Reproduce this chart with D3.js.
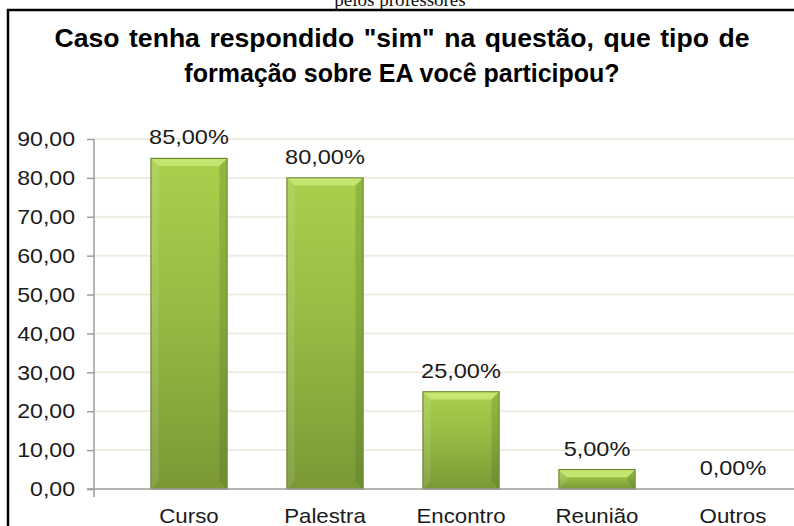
<!DOCTYPE html>
<html>
<head>
<meta charset="utf-8">
<script src="https://cdn.jsdelivr.net/npm/d3@7"></script>
<style>
  body { margin: 0; background: #fff; }
  svg { display: block; font-family: "Liberation Sans", Arial, sans-serif; }
</style>
</head>
<body>
<svg id="svg" width="794" height="526"></svg>
<script>
// chart data
const categories = ["Curso", "Palestra", "Encontro", "Reunião", "Outros"];
const values = [85, 80, 25, 5, 0];
const yTicks = [0, 10, 20, 30, 40, 50, 60, 70, 80, 90];
const titleLines = ["Caso tenha respondido \"sim\" na questão, que tipo de", "formação sobre EA você participou?"];
const captionAbove = "pelos professores";

const W = 794, H = 526;
const svg = d3.select("#svg");

// pt-BR number formats
const br = d3.formatLocale({ decimal: ",", thousands: ".", grouping: [3], currency: ["R$", ""] });
const fmtTick = br.format(".2f");
const fmtPct = v => br.format(".2f")(v) + "%";

// the source picture is stretched a bit horizontally
function stretch(sel, k) {
  sel.each(function () {
    const len = this.getComputedTextLength();
    d3.select(this).attr("textLength", len * k).attr("lengthAdjust", "spacingAndGlyphs");
  });
}

// gradient for the bars
const defs = svg.append("defs");
const grad = defs.append("linearGradient")
  .attr("id", "barGrad").attr("x1", 0).attr("y1", 0).attr("x2", 0).attr("y2", 1);
grad.append("stop").attr("offset", "0%").attr("stop-color", "#a8d04c");
grad.append("stop").attr("offset", "45%").attr("stop-color", "#96bc44");
grad.append("stop").attr("offset", "100%").attr("stop-color", "#7a9936");

// caption cut off at the top (from the page above)
svg.append("text")
  .attr("x", 400).attr("y", 6)
  .attr("text-anchor", "middle")
  .style("font-family", "'Liberation Serif', 'Times New Roman', serif")
  .style("font-size", "19px")
  .attr("fill", "#111")
  .text(captionAbove);

// outer frame
svg.append("rect")
  .attr("x", 8).attr("y", 10)
  .attr("width", 800).attr("height", 540)
  .attr("fill", "none").attr("stroke", "#000").attr("stroke-width", 2.5);

// title
const title = svg.append("g").selectAll("text")
  .data(titleLines)
  .enter().append("text")
  .attr("x", 402)
  .attr("y", (d, i) => 47 + i * 35)
  .attr("text-anchor", "middle")
  .style("font-size", "25px")
  .style("font-weight", "bold")
  .attr("fill", "#000")
  .text(d => d);
title.filter((d, i) => i === 0)
  .style("word-spacing", "2px")
  .attr("textLength", 695).attr("lengthAdjust", "spacingAndGlyphs");

// scales
const x = d3.scaleBand()
  .domain(categories)
  .range([121, 801])
  .paddingInner(0.44)
  .paddingOuter(0.22);

const y = d3.scaleLinear()
  .domain([0, 90])
  .range([489, 139]);

const axisLeftX = 94;

// gridlines
svg.append("g").selectAll("line")
  .data(yTicks.filter(d => d > 0))
  .enter().append("line")
  .attr("x1", axisLeftX).attr("x2", W)
  .attr("y1", d => y(d)).attr("y2", d => y(d))
  .attr("stroke", "#efede3").attr("stroke-width", 2);

// y axis
const yAxis = svg.append("g")
  .attr("transform", "translate(" + axisLeftX + ",0)")
  .call(d3.axisLeft(y).tickValues(yTicks).tickFormat(fmtTick).tickSize(7).tickPadding(12));
yAxis.select(".domain").remove();
yAxis.selectAll(".tick line").attr("stroke", "#9c9c9c").attr("stroke-width", 1.5);
yAxis.selectAll(".tick text")
  .style("font-size", "21px")
  .style("font-family", "'Liberation Sans', Arial, sans-serif")
  .attr("fill", "#1a1a1a")
  .call(stretch, 1.1);
yAxis.append("line")
  .attr("x1", 0).attr("x2", 0)
  .attr("y1", y(90)).attr("y2", y(0) + 8)
  .attr("stroke", "#9c9c9c").attr("stroke-width", 1.5);

// bars
const bars = svg.append("g").selectAll("g")
  .data(categories.map((c, i) => ({ cat: c, val: values[i] })))
  .enter().append("g");

const solid = bars.filter(d => d.val > 0);

solid.append("rect")
  .attr("x", d => x(d.cat))
  .attr("y", d => y(d.val))
  .attr("width", x.bandwidth())
  .attr("height", d => y(0) - y(d.val))
  .attr("fill", "url(#barGrad)")
  .attr("stroke", "#6a882e").attr("stroke-width", 1.2);

// bevel: light top edge, soft left, darker right
function bevel(d, side) {
  const x0 = x(d.cat) + 0.6, x1 = x(d.cat) + x.bandwidth() - 0.6;
  const t = y(d.val) + 0.6, bot = y(0) - 0.6;
  const b = Math.min(7, (y(0) - y(d.val)) / 2);
  if (side === "top") return "M" + x0 + "," + t + "L" + x1 + "," + t + "L" + (x1 - b) + "," + (t + b) + "L" + (x0 + b) + "," + (t + b) + "Z";
  if (side === "left") return "M" + x0 + "," + t + "L" + (x0 + b) + "," + (t + b) + "L" + (x0 + b) + "," + (bot - b) + "L" + x0 + "," + bot + "Z";
  return "M" + x1 + "," + t + "L" + (x1 - b) + "," + (t + b) + "L" + (x1 - b) + "," + (bot - b) + "L" + x1 + "," + bot + "Z";
}
solid.append("path").attr("d", d => bevel(d, "top")).attr("fill", "#c6e673").attr("opacity", 0.95);
solid.append("path").attr("d", d => bevel(d, "left")).attr("fill", "#ffffff").attr("opacity", 0.1);
solid.append("path").attr("d", d => bevel(d, "right")).attr("fill", "#3f5618").attr("opacity", 0.2);

// value labels
bars.append("text")
  .attr("x", d => x(d.cat) + x.bandwidth() / 2)
  .attr("y", d => y(d.val) - 14)
  .attr("text-anchor", "middle")
  .style("font-size", "21px")
  .attr("fill", "#1a1a1a")
  .text(d => fmtPct(d.val))
  .call(stretch, 1.12);

// x axis
svg.append("line")
  .attr("x1", axisLeftX - 7).attr("x2", W)
  .attr("y1", y(0)).attr("y2", y(0))
  .attr("stroke", "#9c9c9c").attr("stroke-width", 1.5);

svg.append("g").selectAll("text")
  .data(categories)
  .enter().append("text")
  .attr("x", d => x(d) + x.bandwidth() / 2)
  .attr("y", 523)
  .attr("text-anchor", "middle")
  .style("font-size", "21px")
  .attr("fill", "#1a1a1a")
  .text(d => d)
  .call(stretch, 1.06);
</script>
</body>
</html>
